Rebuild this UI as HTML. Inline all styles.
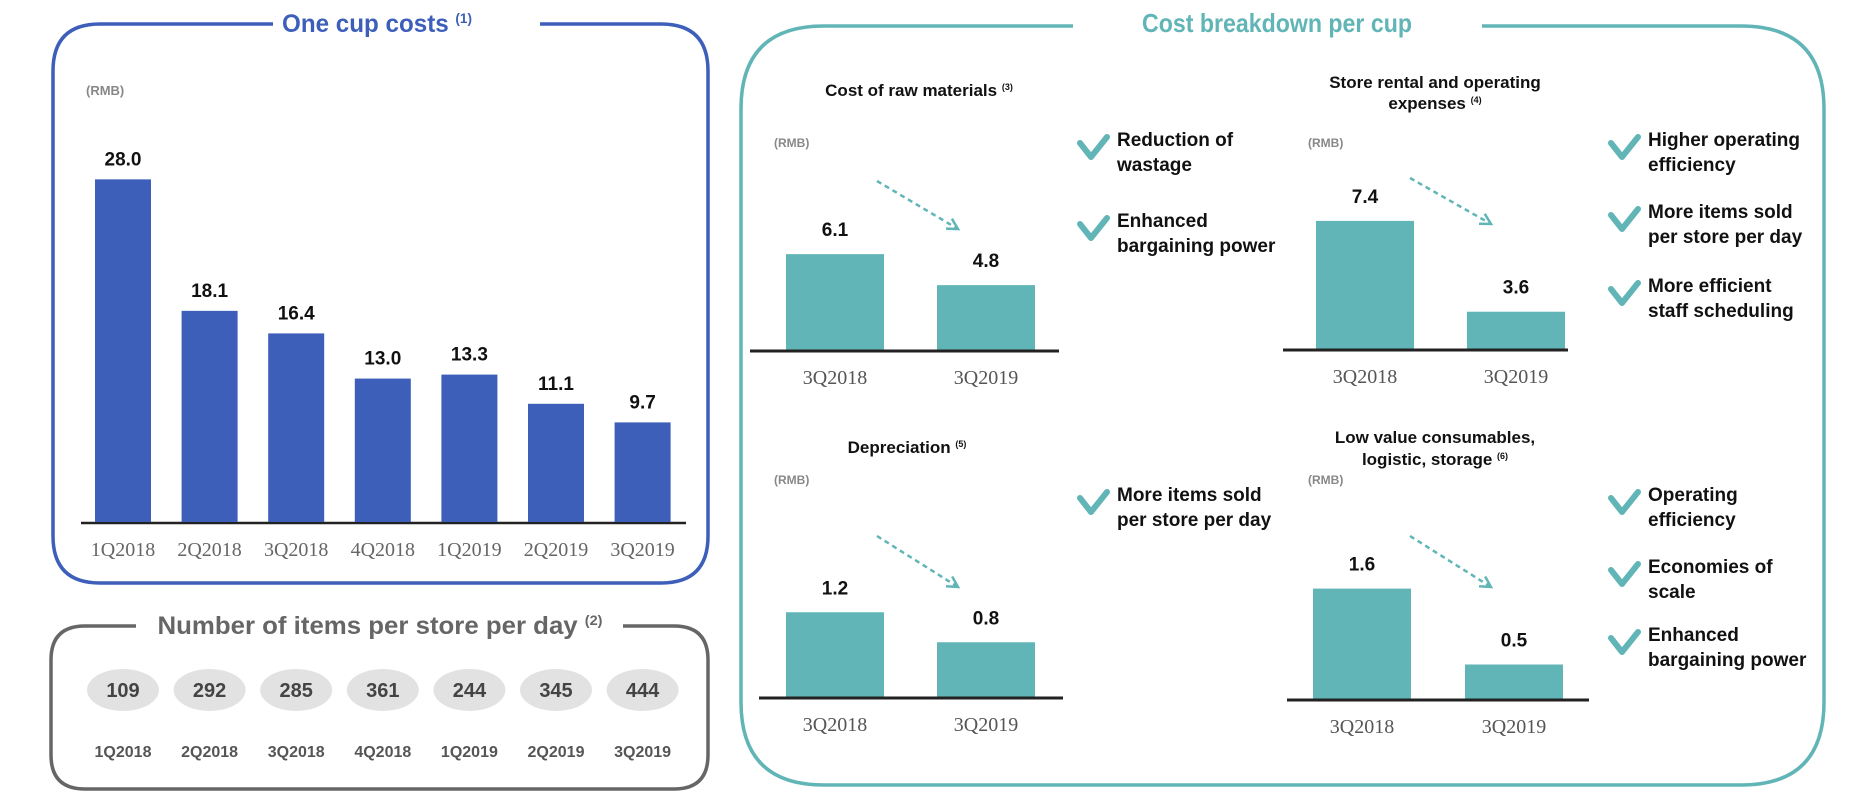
<!DOCTYPE html>
<html><head><meta charset="utf-8">
<style>
html,body{margin:0;padding:0;background:#fff;}
svg{display:block;}
text{font-family:"Liberation Sans Narrow","Liberation Sans",sans-serif;}
text.serif{font-family:"Liberation Serif",serif;}
.b{font-weight:bold;}
</style></head>
<body>
<svg id="svg" width="1860" height="808" viewBox="0 0 1860 808" xmlns="http://www.w3.org/2000/svg">
  <path d="M273 24 H100 Q53 24 53 71 V536 Q53 583 100 583 H661 Q708 583 708 536 V71 Q708 24 661 24 H540" fill="none" stroke="#3d5fba" stroke-width="3.5"/>
  <text x="377" y="32" text-anchor="middle" class="b" font-size="25" fill="#3d5fba" textLength="190" lengthAdjust="spacingAndGlyphs">One cup costs <tspan font-size="14" dy="-9">(1)</tspan></text>
  <text x="86" y="95" class="b" font-size="13" fill="#888">(RMB)</text>
  <g id="cupChart"></g>

  <path d="M136 626 H85 Q51 626 51 660 V755 Q51 789 85 789 H674 Q708 789 708 755 V660 Q708 626 674 626 H623" fill="none" stroke="#666" stroke-width="3.5"/>
  <text x="380" y="634" text-anchor="middle" class="b" font-size="25" fill="#666" textLength="445" lengthAdjust="spacingAndGlyphs">Number of items per store per day <tspan font-size="14" dy="-9">(2)</tspan></text>
  <g id="items"></g>

  <path d="M1073 26 H824 Q741 26 741 109 V702 Q741 785 824 785 H1741 Q1824 785 1824 702 V109 Q1824 26 1741 26 H1482" fill="none" stroke="#62b5b6" stroke-width="3.5"/>
  <text x="1277" y="32" text-anchor="middle" class="b" font-size="26" fill="#62b5b6" textLength="270" lengthAdjust="spacingAndGlyphs">Cost breakdown per cup</text>

  <text x="919" y="96" text-anchor="middle" class="b" font-size="17" fill="#111">Cost of raw materials <tspan font-size="9" dy="-6">(3)</tspan></text>
  <text x="774" y="147" class="b" font-size="12" fill="#888">(RMB)</text>
  <text x="1435" y="88" text-anchor="middle" class="b" font-size="17" fill="#111">Store rental and operating</text>
  <text x="1435" y="109" text-anchor="middle" class="b" font-size="17" fill="#111">expenses <tspan font-size="9" dy="-6">(4)</tspan></text>
  <text x="1308" y="147" class="b" font-size="12" fill="#888">(RMB)</text>
  <text x="907" y="453" text-anchor="middle" class="b" font-size="17" fill="#111">Depreciation <tspan font-size="9" dy="-6">(5)</tspan></text>
  <text x="774" y="484" class="b" font-size="12" fill="#888">(RMB)</text>
  <text x="1435" y="443" text-anchor="middle" class="b" font-size="17" fill="#111">Low value consumables,</text>
  <text x="1435" y="465" text-anchor="middle" class="b" font-size="17" fill="#111">logistic, storage <tspan font-size="9" dy="-6">(6)</tspan></text>
  <text x="1308" y="484" class="b" font-size="12" fill="#888">(RMB)</text>

  <g id="small"></g>
  <g id="checks"></g>
</svg>
<script>
const cupCategories = ["1Q2018","2Q2018","3Q2018","4Q2018","1Q2019","2Q2019","3Q2019"];
const cupValues = [28.0, 18.1, 16.4, 13.0, 13.3, 11.1, 9.7];
const cupLabels = ["28.0","18.1","16.4","13.0","13.3","11.1","9.7"];
const itemValues = [109, 292, 285, 361, 244, 345, 444];
const breakdownCategories = ["3Q2018","3Q2019"];
const rawValues = [6.1, 4.8];
const rentalValues = [7.4, 3.6];
const deprValues = [1.2, 0.8];
const consumValues = [1.6, 0.5];
const rawLabels = ["6.1","4.8"];
const rentalLabels = ["7.4","3.6"];
const deprLabels = ["1.2","0.8"];
const consumLabels = ["1.6","0.5"];
const rawBenefits = [["Reduction of","wastage"],["Enhanced","bargaining power"]];
const rentalBenefits = [["Higher operating","efficiency"],["More items sold","per store per day"],["More efficient","staff scheduling"]];
const deprBenefits = [["More items sold","per store per day"]];
const consumBenefits = [["Operating","efficiency"],["Economies of","scale"],["Enhanced","bargaining power"]];

const NS = "http://www.w3.org/2000/svg";
function mk(tag, attrs, parent){const e=document.createElementNS(NS,tag);for(const k in attrs)e.setAttribute(k,attrs[k]);parent.appendChild(e);return e;}

const cup = document.getElementById('cupChart');
const cupBase = 522, cupX0 = 123, cupStep = 86.6, cupBW = 56;
function cupY(v){return cupBase - (v - 2.2) * 13.28;}
let ax = mk('line',{x1:81,x2:686,y1:cupBase+1,y2:cupBase+1,stroke:'#222','stroke-width':2.5},cup);


cupValues.forEach((v,i)=>{
  const cx = cupX0 + i*cupStep;
  const r = mk('rect',{x:cx-cupBW/2,y:cupY(v),width:cupBW,height:cupBase-cupY(v),fill:'#3d5fba'},cup);
  
  
  const t = mk('text',{x:cx,y:cupY(v)-14,'text-anchor':'middle','font-size':19,'font-weight':'bold',fill:'#111'},cup);
  t.textContent = cupLabels[i];
  
  
  const c = mk('text',{x:cx,y:556,'text-anchor':'middle','font-size':20,fill:'#666',class:'serif'},cup);
  c.textContent = cupCategories[i];
  
  
});

const items = document.getElementById('items');
itemValues.forEach((v,i)=>{
  const cx = cupX0 + i*cupStep;
  const e = mk('ellipse',{cx:cx,cy:690,rx:36,ry:21,fill:'#e2e2e2'},items);
  
  
  const t = mk('text',{x:cx,y:697,'text-anchor':'middle','font-size':20,'font-weight':'bold',fill:'#444'},items);
  t.textContent = v;
  
  
  const c = mk('text',{x:cx,y:757,'text-anchor':'middle','font-size':16,'font-weight':'bold',fill:'#555'},items);
  c.textContent = cupCategories[i];
  
  
});

const small = document.getElementById('small');
const checks = document.getElementById('checks');
function smallChart(name, vals, labels, base, ax1, ax2, bx, scale, v0, arrow, benefits, textX, lineYs){
  const g = mk('g',{},small);
  
  
  const yOf = v => base - (v - v0)*scale;
  vals.forEach((v,i)=>{
    const r = mk('rect',{x:bx[i],y:yOf(v),width:98,height:base-yOf(v),fill:'#62b5b6'},g);
    
    
    const t = mk('text',{x:bx[i]+49,y:yOf(v)-18,'text-anchor':'middle','font-size':19,'font-weight':'bold',fill:'#111'},g);
    t.textContent = labels[i];
    
    
    const c = mk('text',{x:bx[i]+49,y:base+34,'text-anchor':'middle','font-size':20,fill:'#555',class:'serif'},g);
    c.textContent = breakdownCategories[i];
    
    
  });
  const l = mk('line',{x1:ax1,x2:ax2,y1:base+1,y2:base+1,stroke:'#222','stroke-width':3},g);
  
  
  const a = mk('g',{stroke:'#62b5b6','stroke-width':2.5,fill:'none'},g);
  
  
  mk('line',{x1:arrow[0],y1:arrow[1],x2:arrow[2],y2:arrow[3],'stroke-dasharray':'5 4'},a);
  const ang = Math.atan2(arrow[3]-arrow[1],arrow[2]-arrow[0]);
  const h = 12;
  const p1 = [arrow[2]-h*Math.cos(ang-0.5), arrow[3]-h*Math.sin(ang-0.5)];
  const p2 = [arrow[2]-h*Math.cos(ang+0.5), arrow[3]-h*Math.sin(ang+0.5)];
  mk('polyline',{points:`${p1} ${arrow[2]},${arrow[3]} ${p2}`},a);
  benefits.forEach((b,i)=>{
    const y = lineYs[i];
    const k = mk('polyline',{points:`${textX-37},${y-8} ${textX-26},${y+6} ${textX-10},${y-14}`,fill:'none',stroke:'#62b5b6','stroke-width':6,'stroke-linecap':'round','stroke-linejoin':'round'},checks);
    
    
    const t = mk('text',{x:textX,y:y-5,'font-size':19,'font-weight':'bold',fill:'#111'},checks);
    
    
    const s1 = mk('tspan',{x:textX,dy:0},t); s1.textContent=b[0];
    const s2 = mk('tspan',{x:textX,dy:25},t); s2.textContent=b[1];
  });
}
smallChart('raw-materials', rawValues, rawLabels, 350, 750, 1059, [786,937], 23.85, 2.08, [877,181,958,229], rawBenefits, 1117, [151,232]);
smallChart('store-rental', rentalValues, rentalLabels, 349, 1283, 1568, [1316,1467], 23.9, 2.04, [1410,178,1491,224], rentalBenefits, 1648, [151,223,297]);
smallChart('depreciation', deprValues, deprLabels, 697, 759, 1063, [786,937], 75, 0.07, [877,536,958,587], deprBenefits, 1117, [506]);
smallChart('consumables', consumValues, consumLabels, 699, 1287, 1589, [1313,1465], 69, 0.0, [1410,536,1491,587], consumBenefits, 1648, [506,578,646]);
</script>
</body></html>
